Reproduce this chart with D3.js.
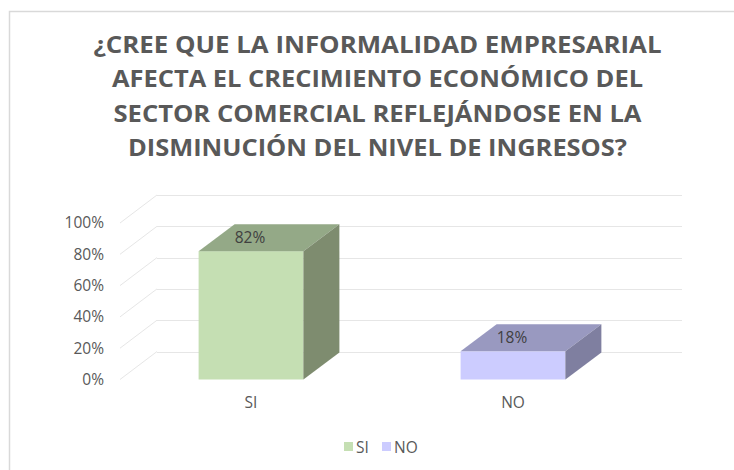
<!DOCTYPE html>
<html>
<head>
<meta charset="utf-8">
<script src="https://cdn.jsdelivr.net/npm/d3@7"></script>
<style>
  html, body { margin: 0; padding: 0; background: #ffffff; }
  svg { display: block; font-family: "Open Sans", "DejaVu Sans", sans-serif; }
</style>
</head>
<body>
<svg id="chart" width="734" height="470"></svg>
<script>
// ---- data ----
const categories = ["SI", "NO"];
const values = [0.82, 0.18];
const valueLabels = ["82%", "18%"];
const yTicks = [0, 0.2, 0.4, 0.6, 0.8, 1.0];
const titleLines = [
  "¿CREE QUE LA INFORMALIDAD EMPRESARIAL",
  "AFECTA EL CRECIMIENTO ECONÓMICO DEL",
  "SECTOR COMERCIAL REFLEJÁNDOSE EN LA",
  "DISMINUCIÓN DEL NIVEL DE INGRESOS?"
];
const legendLabels = ["SI", "NO"];

// ---- styles ----
const faceColors = {
  SI: { front: "#c5dfb3", top: "#94a987", side: "#7e8c6f" },
  NO: { front: "#ccccff", top: "#9999c0", side: "#7f7fa0" }
};

const svg = d3.select("#chart");

// chart border (cropped on right/bottom)
svg.append("rect")
  .attr("x", 9.5).attr("y", 11.5)
  .attr("width", 800).attr("height", 600)
  .attr("fill", "#ffffff")
  .attr("stroke", "#d9d9d9").attr("stroke-width", 1.5);

// title
const titleWidths = [568, 531, 528, 499];
const titleBaselines = [53, 87, 121.5, 156];
svg.append("g").selectAll("text")
  .data(titleLines)
  .join("text")
  .attr("x", 377.5)
  .attr("y", (d, i) => titleBaselines[i])
  .attr("text-anchor", "middle")
  .attr("font-size", 23)
  .attr("font-weight", "bold")
  .attr("fill", "#595959")
  .attr("textLength", (d, i) => titleWidths[i])
  .attr("lengthAdjust", "spacingAndGlyphs")
  .text(d => d);

// ---- scales ----
const x0 = 120, x1 = 644;
const depth = { dx: 37, dy: -28 };
const barDepth = { dx: 36, dy: -27 };

const x = d3.scaleBand()
  .domain(categories)
  .range([x0, x1])
  .paddingInner(0.6)
  .paddingOuter(0.3);

const y = d3.scaleLinear()
  .domain([0, 1])
  .range([379.5, 223]);

// ---- gridlines (back wall + side diagonals) ----
const grid = svg.append("g").attr("stroke", "#e6e6e6").attr("stroke-width", 1).attr("fill", "none");
grid.selectAll("line.back")
  .data(yTicks)
  .join("line")
  .attr("class", "back")
  .attr("x1", x0 + depth.dx).attr("x2", x1 + depth.dx + 1)
  .attr("y1", d => Math.round(y(d) + depth.dy) + 0.5)
  .attr("y2", d => Math.round(y(d) + depth.dy) + 0.5);
grid.selectAll("line.side")
  .data(yTicks)
  .join("line")
  .attr("class", "side")
  .attr("x1", x0).attr("x2", x0 + depth.dx)
  .attr("y1", d => y(d))
  .attr("y2", d => y(d) + depth.dy);

// ---- y axis ----
const yAxis = d3.axisLeft(y)
  .tickValues(yTicks)
  .tickFormat(d3.format(".0%"))
  .tickSize(0)
  .tickPadding(0);
const yg = svg.append("g")
  .attr("transform", "translate(104,0)")
  .call(yAxis);
yg.select(".domain").remove();
yg.selectAll("text")
  .attr("font-family", "'Open Sans', sans-serif")
  .attr("font-size", 15.5)
  .attr("fill", "#595959");

// ---- x axis ----
const xAxis = d3.axisBottom(x).tickSize(0).tickPadding(17);
const xg = svg.append("g")
  .attr("transform", "translate(0,380)")
  .call(xAxis);
xg.select(".domain").remove();
xg.selectAll("text")
  .attr("font-family", "'Open Sans', sans-serif")
  .attr("font-size", 15.5)
  .attr("fill", "#595959");

// ---- 3D bars ----
const data = categories.map((c, i) => ({ cat: c, value: values[i], label: valueLabels[i] }));
const bars = svg.append("g").selectAll("g.bar")
  .data(data)
  .join("g")
  .attr("class", "bar");

bars.append("rect")
  .attr("x", d => x(d.cat))
  .attr("y", d => y(d.value))
  .attr("width", x.bandwidth())
  .attr("height", d => y(0) - y(d.value))
  .attr("fill", d => faceColors[d.cat].front);

bars.append("polygon")
  .attr("points", d => {
    const bx = x(d.cat), w = x.bandwidth(), yt = y(d.value);
    return [[bx, yt], [bx + barDepth.dx, yt + barDepth.dy],
            [bx + w + barDepth.dx, yt + barDepth.dy], [bx + w, yt]].join(" ");
  })
  .attr("fill", d => faceColors[d.cat].top);

bars.append("polygon")
  .attr("points", d => {
    const bx = x(d.cat), w = x.bandwidth(), yt = y(d.value), yb = y(0);
    return [[bx + w, yt], [bx + w + barDepth.dx, yt + barDepth.dy],
            [bx + w + barDepth.dx, yb + barDepth.dy], [bx + w, yb]].join(" ");
  })
  .attr("fill", d => faceColors[d.cat].side);

// data labels
bars.append("text")
  .attr("x", d => x(d.cat) + x.bandwidth() / 2 - 1)
  .attr("y", d => y(d.value) + barDepth.dy / 2 + 5.5)
  .attr("text-anchor", "middle")
  .attr("font-size", 15.5)
  .attr("fill", "#404040")
  .text(d => d.label);

// ---- legend ----
const legendX = [344, 382];
const lg = svg.append("g").selectAll("g")
  .data(legendLabels)
  .join("g")
  .attr("transform", (d, i) => `translate(${legendX[i]},442)`);
lg.append("rect")
  .attr("width", 9).attr("height", 9)
  .attr("fill", d => faceColors[d].front);
lg.append("text")
  .attr("x", 12)
  .attr("y", 10.5)
  .attr("font-size", 15.5)
  .attr("fill", "#595959")
  .text(d => d);
</script>
</body>
</html>
